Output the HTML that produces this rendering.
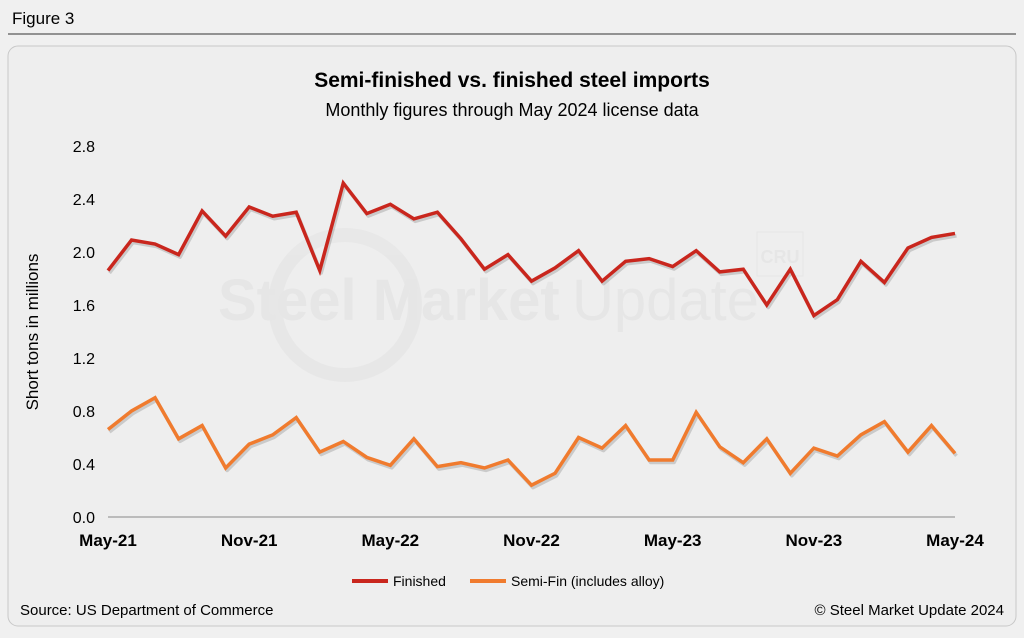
<!DOCTYPE html>
<html><head><meta charset="utf-8"><style>
body{margin:0;width:1024px;height:633px;background:#f0f0f0;font-family:"Liberation Sans",Arial,sans-serif;overflow:hidden}
</style></head><body>
<svg width="1024" height="633" xmlns="http://www.w3.org/2000/svg" font-family="Liberation Sans, Arial, sans-serif">
<text x="12" y="24" font-size="17" fill="#000">Figure 3</text>
<line x1="8" y1="34" x2="1016" y2="34" stroke="#333" stroke-width="1"/>
<rect x="8" y="46" width="1008" height="580" rx="10" fill="#eeeeee" stroke="#c8c8c8"/>
<text x="512" y="87" font-size="21" font-weight="bold" text-anchor="middle">Semi-finished vs. finished steel imports</text>
<text x="512" y="116" font-size="18" text-anchor="middle">Monthly figures through May 2024 license data</text>
<g opacity="0.35">
<circle cx="345" cy="305" r="70" fill="none" stroke="#dcdcdc" stroke-width="14"/>
<text x="218" y="320" font-size="58" font-weight="bold" fill="#d8d8d8">Steel Market</text>
<text x="572" y="320" font-size="58" fill="#d8d8d8">Update</text>
<rect x="757" y="232" width="46" height="44" fill="none" stroke="#d8d8d8"/>
<text x="780" y="263" font-size="18" font-weight="bold" fill="#d8d8d8" text-anchor="middle">CRU</text>
</g>
<text transform="translate(38,332) rotate(-90)" font-size="17" text-anchor="middle">Short tons in millions</text>
<g id="yt"></g><g id="xt"></g><g id="lines"></g>
<g>
<g><line x1="352" y1="581" x2="388" y2="581" stroke="#c9261d" stroke-width="4"/><text x="393" y="586" font-size="14">Finished</text></g>
<g><line x1="470" y1="581" x2="506" y2="581" stroke="#f07b2e" stroke-width="4"/><text x="511" y="586" font-size="14">Semi-Fin (includes alloy)</text></g>
</g>
<text x="20" y="615" font-size="15">Source: US Department of Commerce</text>
<text x="1004" y="615" font-size="15" text-anchor="end">© Steel Market Update 2024</text>
</svg>
<script>
const xLabels=["May-21","Nov-21","May-22","Nov-22","May-23","Nov-23","May-24"];
const yTicks=[0,0.4,0.8,1.2,1.6,2.0,2.4,2.8];
const finished=[1.86,2.09,2.06,1.98,2.31,2.12,2.34,2.27,2.30,1.86,2.52,2.29,2.36,2.25,2.30,2.10,1.87,1.98,1.78,1.88,2.01,1.78,1.93,1.95,1.89,2.01,1.85,1.87,1.60,1.87,1.52,1.64,1.93,1.77,2.03,2.11,2.14];
const semiFin=[0.66,0.80,0.90,0.59,0.69,0.37,0.55,0.62,0.75,0.49,0.57,0.45,0.39,0.59,0.38,0.41,0.37,0.43,0.24,0.33,0.60,0.52,0.69,0.43,0.43,0.79,0.53,0.41,0.59,0.33,0.52,0.46,0.62,0.72,0.49,0.69,0.48];
const NS="http://www.w3.org/2000/svg";
const x0=108,x1=955,y0=517,y1=146;
const n=finished.length;
function X(i){return x0+(x1-x0)*i/(n-1);}
function Y(v){return y0-(y0-y1)*v/2.8;}
function mk(t,a,p){const e=document.createElementNS(NS,t);for(const k in a)e.setAttribute(k,a[k]);p.appendChild(e);return e;}
const yt=document.getElementById('yt');
yTicks.forEach(v=>{const t=mk('text',{x:95,y:Y(v)+6,'font-size':16,'text-anchor':'end'},yt);t.textContent=v.toFixed(1);

});
const xt=document.getElementById('xt');
const ax=mk('line',{x1:x0,y1:y0,x2:x1,y2:y0,stroke:'#888','stroke-width':1},xt);


xLabels.forEach((l,k)=>{const t=mk('text',{x:X(k*6),y:546,'font-size':17,'font-weight':'bold','text-anchor':'middle'},xt);t.textContent=l;

});
const g=document.getElementById('lines');
function series(d,c,name){const pts=d.map((v,i)=>X(i)+','+Y(v)).join(' ');
mk('polyline',{points:d.map((v,i)=>(X(i)+1.5)+','+(Y(v)+2.5)).join(' '),fill:'none',stroke:'rgba(0,0,0,0.15)','stroke-width':3.5,'stroke-linejoin':'round'},g);
const p=mk('polyline',{points:pts,fill:'none',stroke:c,'stroke-width':3.5,'stroke-linejoin':'miter'},g);

}
series(finished,'#c9261d','finished-line');
series(semiFin,'#f07b2e','semi-fin-line');
</script>
</body></html>
